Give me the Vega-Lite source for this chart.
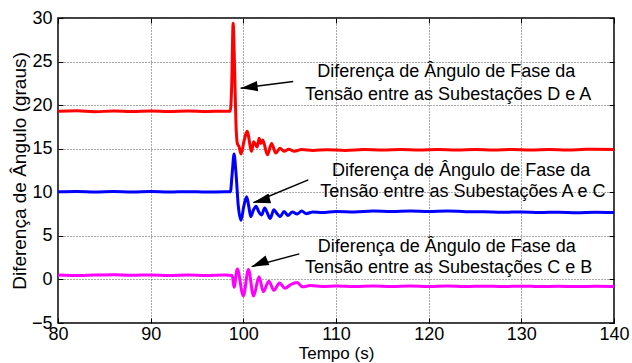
{
  "$schema": "https://vega.github.io/schema/vega-lite/v6.json",
  "width": 556,
  "height": 305,
  "autosize": {"type": "none"},
  "padding": {"left": 58, "top": 18, "right": 18, "bottom": 40},
  "background": "white",
  "config": {
    "view": {"stroke": "#000", "strokeWidth": 1.5},
    "font": "Liberation Sans",
    "axis": {
      "labelFont": "Liberation Sans",
      "titleFont": "Liberation Sans",
      "labelFontSize": 18,
      "titleFontSize": 18,
      "titleFontWeight": "normal",
      "labelColor": "#000",
      "titleColor": "#000",
      "domain": false,
      "gridColor": "#555",
      "gridDash": [1, 2],
      "gridWidth": 1,
      "tickColor": "#000",
      "tickSize": -5,
      "tickWidth": 1
    }
  },
  "datasets": {
    "series": [
      {"t": 80, "v": 19.3, "s": "DA"}, {"t": 82, "v": 19.36, "s": "DA"}, {"t": 84, "v": 19.25, "s": "DA"}, {"t": 86, "v": 19.32, "s": "DA"}, {"t": 88, "v": 19.27, "s": "DA"}, {"t": 90, "v": 19.33, "s": "DA"}, {"t": 92, "v": 19.28, "s": "DA"}, {"t": 94, "v": 19.32, "s": "DA"}, {"t": 96, "v": 19.27, "s": "DA"}, {"t": 98, "v": 19.3, "s": "DA"},
      {"t": 98.6, "v": 19.3, "s": "DA"}, {"t": 98.75, "v": 22.5, "s": "DA"}, {"t": 98.9, "v": 29.4, "s": "DA"}, {"t": 99.05, "v": 24.5, "s": "DA"}, {"t": 99.2, "v": 18.0, "s": "DA"}, {"t": 99.35, "v": 15.6, "s": "DA"}, {"t": 99.55, "v": 15.2, "s": "DA"}, {"t": 99.75, "v": 14.4, "s": "DA"}, {"t": 100.1, "v": 16.0, "s": "DA"}, {"t": 100.4, "v": 17.0, "s": "DA"}, {"t": 100.9, "v": 14.7, "s": "DA"}, {"t": 101.1, "v": 15.8, "s": "DA"}, {"t": 101.3, "v": 15.5, "s": "DA"}, {"t": 101.5, "v": 15.2, "s": "DA"}, {"t": 101.7, "v": 16.2, "s": "DA"}, {"t": 101.9, "v": 15.6, "s": "DA"}, {"t": 102.1, "v": 16.0, "s": "DA"}, {"t": 102.6, "v": 14.3, "s": "DA"}, {"t": 103.05, "v": 15.6, "s": "DA"}, {"t": 103.5, "v": 14.5, "s": "DA"}, {"t": 103.95, "v": 15.05, "s": "DA"}, {"t": 104.4, "v": 14.7, "s": "DA"}, {"t": 104.9, "v": 14.95, "s": "DA"}, {"t": 105.5, "v": 14.7, "s": "DA"}, {"t": 106.3, "v": 14.9, "s": "DA"}, {"t": 107.5, "v": 14.8, "s": "DA"}, {"t": 109, "v": 14.88, "s": "DA"}, {"t": 111, "v": 14.8, "s": "DA"}, {"t": 113, "v": 14.9, "s": "DA"}, {"t": 115, "v": 14.84, "s": "DA"}, {"t": 117, "v": 14.9, "s": "DA"}, {"t": 119, "v": 14.85, "s": "DA"}, {"t": 121, "v": 14.92, "s": "DA"}, {"t": 123, "v": 14.85, "s": "DA"}, {"t": 125, "v": 14.9, "s": "DA"}, {"t": 127, "v": 14.84, "s": "DA"}, {"t": 129, "v": 14.92, "s": "DA"}, {"t": 131, "v": 14.86, "s": "DA"}, {"t": 133, "v": 14.92, "s": "DA"}, {"t": 135, "v": 14.86, "s": "DA"}, {"t": 137, "v": 14.93, "s": "DA"}, {"t": 140, "v": 14.9, "s": "DA"},

      {"t": 80, "v": 10.05, "s": "AC"}, {"t": 82, "v": 10.1, "s": "AC"}, {"t": 84, "v": 10.02, "s": "AC"}, {"t": 86, "v": 10.08, "s": "AC"}, {"t": 88, "v": 10.03, "s": "AC"}, {"t": 90, "v": 10.08, "s": "AC"}, {"t": 92, "v": 10.03, "s": "AC"}, {"t": 94, "v": 10.07, "s": "AC"}, {"t": 96, "v": 10.03, "s": "AC"}, {"t": 98, "v": 10.06, "s": "AC"},
      {"t": 98.6, "v": 10.05, "s": "AC"}, {"t": 98.8, "v": 12.2, "s": "AC"}, {"t": 99.0, "v": 14.4, "s": "AC"}, {"t": 99.2, "v": 12.3, "s": "AC"}, {"t": 99.45, "v": 8.5, "s": "AC"}, {"t": 99.75, "v": 6.8, "s": "AC"}, {"t": 100.05, "v": 8.4, "s": "AC"}, {"t": 100.36, "v": 9.5, "s": "AC"}, {"t": 100.6, "v": 8.3, "s": "AC"}, {"t": 100.8, "v": 7.2, "s": "AC"}, {"t": 101.1, "v": 8.0, "s": "AC"}, {"t": 101.37, "v": 8.4, "s": "AC"}, {"t": 101.65, "v": 7.8, "s": "AC"}, {"t": 101.98, "v": 7.4, "s": "AC"}, {"t": 102.3, "v": 8.2, "s": "AC"}, {"t": 102.6, "v": 7.6, "s": "AC"}, {"t": 102.9, "v": 7.0, "s": "AC"}, {"t": 103.3, "v": 8.0, "s": "AC"}, {"t": 103.6, "v": 7.6, "s": "AC"}, {"t": 103.96, "v": 7.2, "s": "AC"}, {"t": 104.4, "v": 7.8, "s": "AC"}, {"t": 104.8, "v": 7.35, "s": "AC"}, {"t": 105.3, "v": 7.75, "s": "AC"}, {"t": 105.8, "v": 7.5, "s": "AC"}, {"t": 106.3, "v": 7.85, "s": "AC"}, {"t": 106.8, "v": 7.55, "s": "AC"}, {"t": 107.5, "v": 7.75, "s": "AC"}, {"t": 108.5, "v": 7.68, "s": "AC"}, {"t": 110, "v": 7.8, "s": "AC"}, {"t": 112, "v": 7.75, "s": "AC"}, {"t": 114, "v": 7.85, "s": "AC"}, {"t": 116, "v": 7.8, "s": "AC"}, {"t": 118, "v": 7.86, "s": "AC"}, {"t": 120, "v": 7.8, "s": "AC"}, {"t": 122, "v": 7.85, "s": "AC"}, {"t": 124, "v": 7.78, "s": "AC"}, {"t": 126, "v": 7.76, "s": "AC"}, {"t": 128, "v": 7.7, "s": "AC"}, {"t": 130, "v": 7.75, "s": "AC"}, {"t": 132, "v": 7.68, "s": "AC"}, {"t": 134, "v": 7.72, "s": "AC"}, {"t": 136, "v": 7.65, "s": "AC"}, {"t": 138, "v": 7.71, "s": "AC"}, {"t": 140, "v": 7.68, "s": "AC"},

      {"t": 80, "v": 0.5, "s": "CB"}, {"t": 82, "v": 0.45, "s": "CB"}, {"t": 84, "v": 0.52, "s": "CB"}, {"t": 86, "v": 0.55, "s": "CB"}, {"t": 88, "v": 0.47, "s": "CB"}, {"t": 90, "v": 0.52, "s": "CB"}, {"t": 92, "v": 0.46, "s": "CB"}, {"t": 94, "v": 0.5, "s": "CB"}, {"t": 96, "v": 0.45, "s": "CB"}, {"t": 98, "v": 0.5, "s": "CB"},
      {"t": 98.8, "v": 0.45, "s": "CB"}, {"t": 99.0, "v": -0.9, "s": "CB"}, {"t": 99.35, "v": 1.2, "s": "CB"}, {"t": 100.0, "v": -1.9, "s": "CB"}, {"t": 100.55, "v": 1.15, "s": "CB"}, {"t": 101.1, "v": -1.9, "s": "CB"}, {"t": 101.7, "v": 0.3, "s": "CB"}, {"t": 102.15, "v": -1.4, "s": "CB"}, {"t": 102.75, "v": -0.2, "s": "CB"}, {"t": 103.3, "v": -1.25, "s": "CB"}, {"t": 103.9, "v": -0.4, "s": "CB"}, {"t": 104.5, "v": -1.0, "s": "CB"}, {"t": 105.1, "v": -0.6, "s": "CB"}, {"t": 105.8, "v": -0.35, "s": "CB"}, {"t": 106.4, "v": -0.85, "s": "CB"}, {"t": 107.2, "v": -0.7, "s": "CB"}, {"t": 108.5, "v": -0.8, "s": "CB"}, {"t": 110, "v": -0.74, "s": "CB"}, {"t": 112, "v": -0.8, "s": "CB"}, {"t": 114, "v": -0.75, "s": "CB"}, {"t": 116, "v": -0.8, "s": "CB"}, {"t": 118, "v": -0.76, "s": "CB"}, {"t": 120, "v": -0.8, "s": "CB"}, {"t": 122, "v": -0.76, "s": "CB"}, {"t": 124, "v": -0.81, "s": "CB"}, {"t": 126, "v": -0.77, "s": "CB"}, {"t": 128, "v": -0.82, "s": "CB"}, {"t": 130, "v": -0.77, "s": "CB"}, {"t": 132, "v": -0.82, "s": "CB"}, {"t": 134, "v": -0.78, "s": "CB"}, {"t": 136, "v": -0.82, "s": "CB"}, {"t": 138, "v": -0.78, "s": "CB"}, {"t": 140, "v": -0.8, "s": "CB"}
    ],
    "labels": [
      {"t": 121.9, "v": 23.2, "txt": "Diferença de Ângulo de Fase da"},
      {"t": 122.1, "v": 20.6, "txt": "Tensão entre as Subestações D e A"},
      {"t": 123.5, "v": 11.85, "txt": "Diferença de Ângulo de Fase da"},
      {"t": 123.7, "v": 9.45, "txt": "Tensão entre as Subestações A e C"},
      {"t": 121.95, "v": 3.1, "txt": "Diferença de Ângulo de Fase da"},
      {"t": 122.15, "v": 0.75, "txt": "Tensão entre as Subestações C e B"}
    ],
    "arrows": [
      {"id": "a1", "x0": 105.39, "y0": 22.7, "x1": 99.71, "y1": 21.94},
      {"id": "a2", "x0": 107.01, "y0": 11.42, "x1": 101.08, "y1": 8.81},
      {"id": "a3", "x0": 106.04, "y0": 2.93, "x1": 100.9, "y1": 1.47}
    ]
  },
  "resolve": {"axis": {"x": "independent", "y": "independent"}},
  "layer": [
    {
      "data": {"name": "series"},
      "transform": [{"filter": "datum.s === 'DA'"}],
      "mark": {"type": "line", "color": "#ff0000", "strokeWidth": 3, "interpolate": "monotone", "clip": true},
      "encoding": {
        "x": {"field": "t", "type": "quantitative", "scale": {"domain": [80, 140], "nice": false, "zero": false},
              "axis": {"title": "Tempo (s)", "titleFontSize": 17, "values": [80, 90, 100, 110, 120, 130, 140], "labelPadding": 7, "labelFlush": false, "titleY": 35, "titleBaseline": "alphabetic", "titleAnchor": "middle"}},
        "y": {"field": "v", "type": "quantitative", "scale": {"domain": [-5, 30], "nice": false, "zero": false},
              "axis": {"title": "Diferença de Ângulo (graus)", "values": [-5, 0, 5, 10, 15, 20, 25, 30], "labelPadding": 11, "labelFlush": false, "titleX": -33, "titleBaseline": "alphabetic", "titleFontSize": 19}}
      }
    },
    {
      "data": {"name": "series"},
      "transform": [{"filter": "datum.s === 'AC'"}],
      "mark": {"type": "line", "color": "#0000ff", "strokeWidth": 3, "interpolate": "monotone", "clip": true},
      "encoding": {
        "x": {"field": "t", "type": "quantitative",
              "axis": {"orient": "top", "title": null, "labels": false, "grid": false, "values": [80, 90, 100, 110, 120, 130, 140]}},
        "y": {"field": "v", "type": "quantitative",
              "axis": {"orient": "right", "title": null, "labels": false, "grid": false, "values": [-5, 0, 5, 10, 15, 20, 25, 30]}}
      }
    },
    {
      "data": {"name": "series"},
      "transform": [{"filter": "datum.s === 'CB'"}],
      "mark": {"type": "line", "color": "#ff00ff", "strokeWidth": 3, "interpolate": "monotone", "clip": true},
      "encoding": {
        "x": {"field": "t", "type": "quantitative", "axis": null},
        "y": {"field": "v", "type": "quantitative", "axis": null}
      }
    },
    {
      "data": {"name": "labels"},
      "mark": {"type": "text", "font": "Liberation Sans", "fontSize": 18, "align": "center", "baseline": "alphabetic", "color": "#000"},
      "encoding": {
        "x": {"field": "t", "type": "quantitative", "axis": null},
        "y": {"field": "v", "type": "quantitative", "axis": null},
        "text": {"field": "txt"}
      }
    },
    {
      "data": {"name": "arrows"},
      "mark": {"type": "rule", "color": "#000", "strokeWidth": 1.5},
      "encoding": {
        "x": {"field": "x0", "type": "quantitative", "axis": null},
        "y": {"field": "y0", "type": "quantitative", "axis": null},
        "x2": {"field": "x1"},
        "y2": {"field": "y1"}
      }
    },
    {
      "data": {"name": "arrows"},
      "mark": {"type": "point", "shape": "M0,0L-0.6,2L0.6,2Z", "filled": true, "color": "#000", "opacity": 1, "size": 289},
      "encoding": {
        "x": {"field": "x1", "type": "quantitative", "axis": null},
        "y": {"field": "y1", "type": "quantitative", "axis": null},
        "angle": {"field": "id", "type": "nominal", "scale": {"domain": ["a1", "a2", "a3"], "range": [263, 248, 255]}, "legend": null}
      }
    }
  ]
}
